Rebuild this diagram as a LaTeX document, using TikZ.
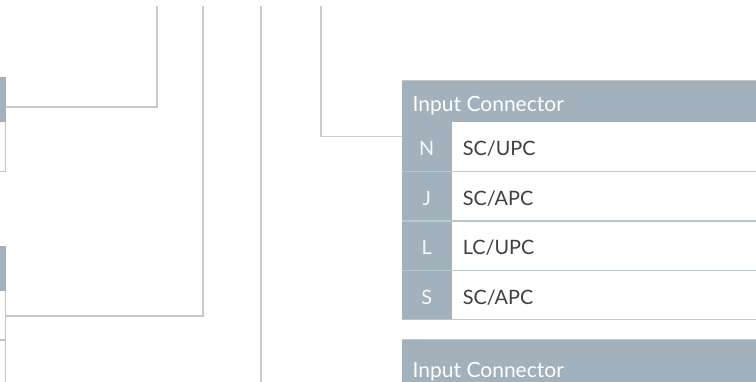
\documentclass[tikz,border=0pt]{standalone}
\usepackage{fontspec}
\setmainfont{Lato}
\definecolor{hdr}{HTML}{A2B1BB}
\definecolor{connc}{HTML}{C9C9CB}
\definecolor{sepc}{HTML}{BAC6CE}
\definecolor{txtc}{HTML}{404040}
\definecolor{letc}{HTML}{F7F9FA}
\definecolor{topc}{HTML}{C4C8CB}
\begin{document}
\begin{tikzpicture}[x=1pt,y=-1pt,
 connector/.style={draw=connc,line width=1.3pt},
 hdrcell/.style={fill=hdr,inner sep=0pt,outer sep=0pt,anchor=north west},
 hdrtext/.style={text=white,font=\fontsize{21}{25}\selectfont,anchor=base west,inner sep=0pt},
 lettext/.style={text=letc,font=\fontsize{19.8}{23}\selectfont,anchor=base,inner sep=0pt},
 valtext/.style={text=txtc,font=\fontsize{19.8}{23}\selectfont,anchor=base west,inner sep=0pt},
 sepline/.style={draw=sepc,line width=1.3pt},
 topline/.style={draw=topc,line width=0.8pt}]
\useasboundingbox (0,0) rectangle (756,381);
\clip (0,0) rectangle (756,381);
\fill[white] (0,0) rectangle (756,381);

% left partial boxes
\node[hdrcell,minimum width=10pt,minimum height=45pt] (lh1) at (-4,77) {};
\draw[sepline] (-2,171.3) -- (5.5,171.3) -- (5.5,122);
\node[hdrcell,minimum width=10pt,minimum height=44.5pt] (lh2) at (-4,246) {};
\draw[sepline] (5.5,290.5) -- (5.5,385);
\draw[sepline] (-2,340) -- (5.5,340);

% right table 1
\node[hdrcell,minimum width=370pt,minimum height=41.3pt] (rh1) at (402,81) {};
\draw[topline] (402,80.8) -- (760,80.8);
\node[hdrcell,minimum width=49.7pt,minimum height=198pt] (lc1) at (402,122.3) {};
\foreach \yy in {171.6,221,270.4,319.6} {\draw[sepline] (402,\yy) -- (760,\yy);}
\node[hdrtext] (ht1) at (412.5,111.3) {Input Connector};
\node[lettext] (k1) at (426.7,155.7) {N};
\node[lettext] (k2) at (426.7,205.2) {J};
\node[lettext] (k3) at (426.7,254.7) {L};
\node[lettext] (k4) at (426.7,304.2) {S};
\node[valtext] (v1) at (462.7,155.7) {SC/UPC};
\node[valtext] (v2) at (462.7,205.2) {SC/APC};
\node[valtext] (v3) at (462.7,254.7) {LC/UPC};
\node[valtext] (v4) at (462.7,304.2) {SC/APC};

% right table 2
\node[hdrcell,minimum width=370pt,minimum height=50pt] (rh2) at (402,339.3) {};
\draw[topline] (402,339.2) -- (760,339.2);
\node[hdrtext] (ht2) at (412.5,377.5) {Input Connector};

% connectors
\coordinate (a1) at (6,107);
\coordinate (a1t) at (157,6);
\draw[connector] (a1) -| (a1t);
\coordinate (a2) at (6,316);
\coordinate (a2t) at (203,6);
\draw[connector] (a2) -| (a2t);
\coordinate (a3t) at (261,6);
\coordinate (a3b) at (261,385);
\draw[connector] (a3t) -- (a3b);
\coordinate (a4t) at (321,6);
\coordinate (a4e) at (402,136.5);
\draw[connector] (a4t) |- (a4e);
\end{tikzpicture}
\end{document}
